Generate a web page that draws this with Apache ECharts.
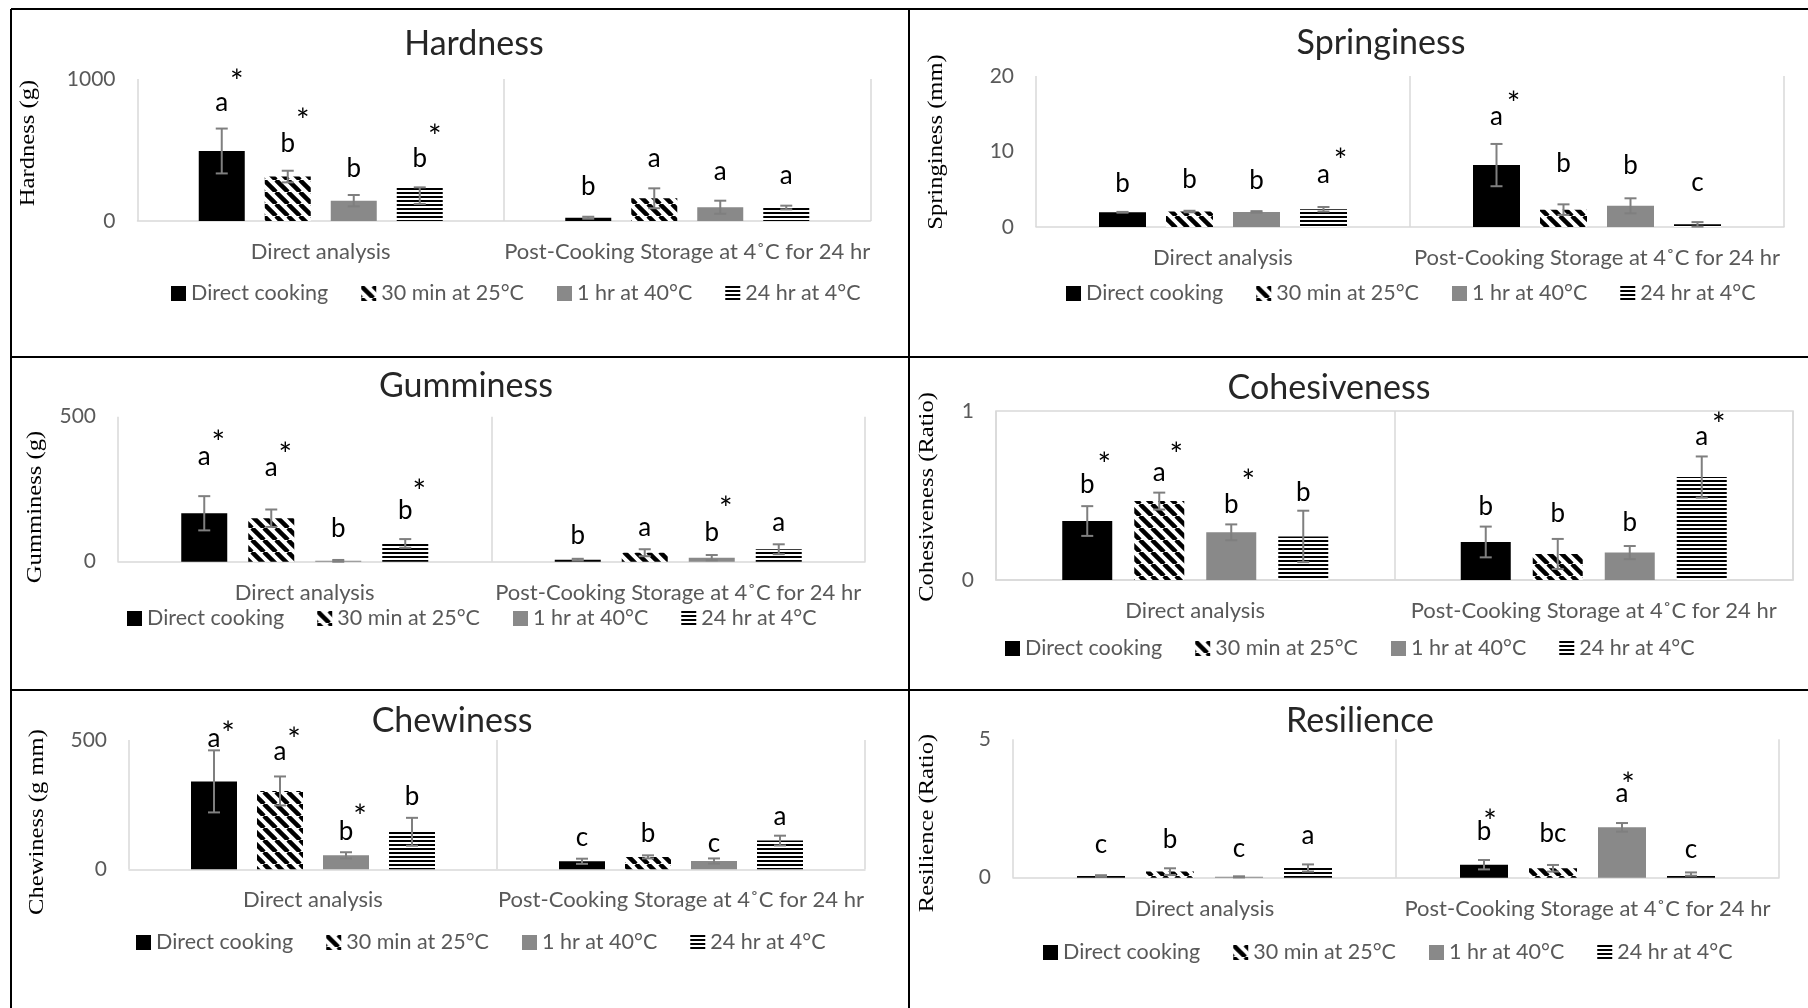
<!DOCTYPE html>
<html>
<head>
<meta charset="utf-8">
<script src="https://cdn.jsdelivr.net/npm/echarts@6/dist/echarts.min.js"></script>
<style>
  html, body { margin: 0; padding: 0; background: #fff; }
  #chart { width: 1808px; height: 1008px; }
</style>
</head>
<body>
<div id="chart"></div>
<script>
const categories = ['Direct analysis', 'Post-Cooking Storage at 4˚C for 24 hr']
const treatments = ['Direct cooking', '30 min at 25°C', '1 hr at 40°C', '24 hr at 4°C']

// rows: [Direct analysis, Post-Cooking], columns: treatments
// err: number = ±, [minus, plus] when asymmetric
const hardnessMean = [[493, 313, 143, 232], [23, 160, 97, 95]]
const hardnessErr = [[158, 41, 40, [112, 5]], [7, 70, 46, 13]]
const hardnessLetters = [['a', 'b', 'b', 'b'], ['b', 'a', 'a', 'a']]
const hardnessLetterY = [[833, 547, 371, 441], [242, 441, 347, 319]]
const hardnessStarY = [[1016, 739, null, 629], [null, null, null, null]]

const springMean = [[1.95, 2.05, 2.0, 2.35], [8.2, 2.3, 2.8, 0.35]]
const springErr = [[0.05, 0.1, 0.1, 0.3], [2.8, 0.7, 1.0, 0.3]]
const springLetters = [['b', 'b', 'b', 'a'], ['a', 'b', 'b', 'c']]
const springLetterY = [[5.8, 6.3, 6.1, 7.0], [14.6, 8.4, 8.1, 5.9]]
const springStarY = [[null, null, null, 9.5], [17.0, null, null, null]]

const gumMean = [[167, 150, 3, 63], [7, 31, 14, 43]]
const gumErr = [[59, 30, 3, 15], [3, 12, 9, 17]]
const gumLetters = [['a', 'a', 'b', 'b'], ['b', 'a', 'b', 'a']]
const gumLetterY = [[364, 325, 115, 176], [90, 117, 100, 134]]
const gumStarY = [[429, 385, null, 259], [null, null, 199, null]]

const cohMean = [[0.349, 0.467, 0.282, 0.258], [0.225, 0.154, 0.162, 0.609]]
const cohErr = [[0.088, 0.05, 0.047, 0.152], [0.091, 0.089, 0.039, 0.122]]
const cohLetters = [['b', 'a', 'b', 'b'], ['b', 'b', 'b', 'a']]
const cohLetterY = [[0.562, 0.635, 0.444, 0.517], [0.434, 0.395, 0.341, 0.848]]
const cohStarY = [[0.71, 0.769, 0.611, null], [null, null, null, 0.947]]

const chewMean = [[340, 303, 54, 145], [31, 48, 32, 111]]
const chewErr = [[120, 56, 12, 54], [10, 6, 10, 19]]
const chewLetters = [['a', 'a', 'b', 'b'], ['c', 'b', 'c', 'a']]
const chewLetterY = [[506, 455, 145, 283], [122, 139, 100, 203]]
const chewStarY = [[542, 519, 223, null], [null, null, null, null]]

const resMean = [[0.06, 0.22, 0.03, 0.35], [0.47, 0.34, 1.82, 0.13]]
const resErr = [[0.03, 0.12, 0.02, 0.13], [0.17, 0.12, 0.155, 0.06]]
const resLetters = [['c', 'b', 'c', 'a'], ['b', 'bc', 'a', 'c']]
const resLetterY = [[1.21, 1.36, 1.06, 1.52], [1.66, 1.58, 3.05, 1.0]]
const resStarY = [[null, null, null, null], [2.2, null, 3.53, null]]

const SANS = 'Lato, "Noto Sans", sans-serif'
const SERIF = '"Liberation Serif", "DejaVu Serif", serif'

// hatch fills
const makeDiag = () => {
  const c = document.createElement('canvas')
  c.width = 12; c.height = 12
  const g = c.getContext('2d')
  g.fillStyle = '#fff'; g.fillRect(0, 0, 12, 12)
  g.strokeStyle = '#000'; g.lineWidth = 4.5
  for (const k of [-12, 0, 12]) {
    g.beginPath(); g.moveTo(k, 0); g.lineTo(k + 12, 12); g.stroke()
  }
  return c
}
const makeStripes = () => {
  const c = document.createElement('canvas')
  c.width = 4; c.height = 4
  const g = c.getContext('2d')
  g.fillStyle = '#fff'; g.fillRect(0, 0, 4, 4)
  g.fillStyle = '#000'; g.fillRect(0, 0, 4, 2)
  return c
}
const fills = [
  '#000000',
  { image: makeDiag(), repeat: 'repeat' },
  '#898989',
  { image: makeStripes(), repeat: 'repeat' }
]

const panels = [
  { title: 'Hardness', titlePos: [469, 43], grid: [137.5, 79, 733, 142], yMax: 1000, yInterval: 1000,
    yName: 'Hardness (g)', yNamePos: [29, 143], barWidth: 46, gap: 20, legendPos: [171, 291], starDx: 15,
    mean: hardnessMean, err: hardnessErr, letters: hardnessLetters, letterY: hardnessLetterY, starY: hardnessStarY },
  { title: 'Springiness', titlePos: [1376, 42], grid: [1036, 76, 748, 151], yMax: 20, yInterval: 10,
    yName: 'Springiness (mm)', yNamePos: [937, 142], barWidth: 47, gap: 20, legendPos: [1066, 291], starDx: 17,
    mean: springMean, err: springErr, letters: springLetters, letterY: springLetterY, starY: springStarY },
  { title: 'Gumminess', titlePos: [461, 385], grid: [118, 416.7, 747, 145], yMax: 500, yInterval: 500,
    yName: 'Gumminess (g)', yNamePos: [36, 507], barWidth: 46, gap: 21, legendPos: [127, 616], starDx: 14,
    mean: gumMean, err: gumErr, letters: gumLetters, letterY: gumLetterY, starY: gumStarY },
  { title: 'Cohesiveness', titlePos: [1324, 387], grid: [996, 411, 797, 169], yMax: 1, yInterval: 1,
    yName: 'Cohesiveness (Ratio)', yNamePos: [928, 497], barWidth: 50, gap: 22, legendPos: [1005, 646], starDx: 17, boxed: true,
    mean: cohMean, err: cohErr, letters: cohLetters, letterY: cohLetterY, starY: cohStarY },
  { title: 'Chewiness', titlePos: [447, 720], grid: [129, 740, 736, 129.3], yMax: 500, yInterval: 500,
    yName: 'Chewiness (g mm)', yNamePos: [38, 822], barWidth: 46, gap: 20, legendPos: [136, 940], starDx: 14,
    mean: chewMean, err: chewErr, letters: chewLetters, letterY: chewLetterY, starY: chewStarY },
  { title: 'Resilience', titlePos: [1355, 720], grid: [1013, 739.3, 766, 138.4], yMax: 5, yInterval: 5,
    yName: 'Resilience (Ratio)', yNamePos: [928, 823], barWidth: 48, gap: 21, legendPos: [1043, 950], starDx: 6,
    mean: resMean, err: resErr, letters: resLetters, letterY: resLetterY, starY: resStarY }
]

const option = {
  animation: false,
  backgroundColor: '#fff',
  title: [], grid: [], xAxis: [], yAxis: [], legend: [], series: [],
  graphic: { elements: [] }
}

const borderLine = (x1, y1, x2, y2) => ({
  type: 'line', silent: true,
  shape: { x1, y1, x2, y2 },
  style: { stroke: '#000', lineWidth: 2 }
})
option.graphic.elements.push(
  borderLine(11, 9, 1808, 9),
  borderLine(11, 9, 11, 1008),
  borderLine(909, 9, 909, 1008),
  borderLine(11, 357, 1808, 357),
  borderLine(11, 690, 1808, 690)
)

const textStyle = (size) => ({
  font: size + 'px ' + SANS, fill: '#000',
  textAlign: 'center', textVerticalAlign: 'middle', align: 'center', verticalAlign: 'middle'
})

panels.forEach((p, idx) => {
  option.title.push({
    text: p.title, left: p.titlePos[0], top: p.titlePos[1] - 21, textAlign: 'center',
    textStyle: { fontFamily: SANS, fontSize: 34, fontWeight: 'normal', color: '#262626' }
  })
  option.grid.push({
    left: p.grid[0], top: p.grid[1], width: p.grid[2], height: p.grid[3],
    show: !!p.boxed, borderColor: '#d9d9d9', borderWidth: 1.5, backgroundColor: 'transparent'
  })
  option.xAxis.push({
    type: 'category', gridIndex: idx, data: categories,
    axisTick: { show: false },
    axisLine: { lineStyle: { color: '#d9d9d9', width: 1.5 } },
    axisLabel: { interval: 0, color: '#595959', fontFamily: SANS, fontSize: 22, margin: 20 },
    splitLine: { show: true, interval: 0, lineStyle: { color: '#d9d9d9', width: 1.5 } }
  })
  option.yAxis.push({
    type: 'value', gridIndex: idx, min: 0, max: p.yMax, interval: p.yInterval,
    axisLine: { show: false }, axisTick: { show: false }, splitLine: { show: false },
    axisLabel: { color: '#595959', fontFamily: SANS, fontSize: 21, margin: 22, formatter: v => String(v) }
  })
  option.legend.push({
    left: p.legendPos[0], top: p.legendPos[1] - 8.5, padding: 0,
    itemWidth: 15, itemHeight: 15, itemGap: 33, icon: 'rect',
    selectedMode: false, data: treatments,
    textStyle: { color: '#595959', fontFamily: SANS, fontSize: 21.5 }
  })
  treatments.forEach((name, s) => {
    option.series.push({
      type: 'bar', name, xAxisIndex: idx, yAxisIndex: idx,
      data: p.mean.map(row => row[s]),
      barWidth: p.barWidth, barGap: (p.gap / p.barWidth * 100) + '%',
      itemStyle: { color: fills[s] }, silent: true
    })
  })
  treatments.forEach((name, s) => {
    option.series.push({
      type: 'custom', xAxisIndex: idx, yAxisIndex: idx, silent: true, z: 10,
      data: categories.map((c, ci) => [ci, p.mean[ci][s]]),
      encode: { x: 0, y: 1 },
      renderItem: (params, api) => {
        const ci = api.value(0)
        const m = api.value(1)
        const e = p.err[ci][s]
        const lo = Array.isArray(e) ? m - e[0] : m - e
        const hi = Array.isArray(e) ? m + e[1] : m + e
        const off = (s - 1.5) * (p.barWidth + p.gap)
        const top = api.coord([ci, hi])
        const bot = api.coord([ci, lo])
        const x = top[0] + off
        const errStyle = { stroke: '#7f7f7f', lineWidth: 2 }
        const children = [
          { type: 'line', shape: { x1: x, y1: top[1], x2: x, y2: bot[1] }, style: errStyle },
          { type: 'line', shape: { x1: x - 6, y1: top[1], x2: x + 6, y2: top[1] }, style: errStyle },
          { type: 'line', shape: { x1: x - 6, y1: bot[1], x2: x + 6, y2: bot[1] }, style: errStyle }
        ]
        const lp = api.coord([ci, p.letterY[ci][s]])
        children.push({ type: 'text', x, y: lp[1], style: { text: p.letters[ci][s], ...textStyle(26) } })
        const sy = p.starY[ci][s]
        if (sy != null) {
          const sp = api.coord([ci, sy])
          // Lato's asterisk sits high in the em box, so nudge it down
          children.push({ type: 'text', x: x + p.starDx, y: sp[1] + 6, style: { text: '*', ...textStyle(32) } })
        }
        return { type: 'group', children }
      }
    })
  })
  option.graphic.elements.push({
    type: 'text', x: p.yNamePos[0], y: p.yNamePos[1], rotation: Math.PI / 2, scaleX: 1.23,
    silent: true,
    style: { text: p.yName, font: '20px ' + SERIF, fill: '#000',
      textAlign: 'center', textVerticalAlign: 'middle', align: 'center', verticalAlign: 'middle' }
  })
})

const chart = echarts.init(document.getElementById('chart'))
chart.setOption(option)
</script>
</body>
</html>
